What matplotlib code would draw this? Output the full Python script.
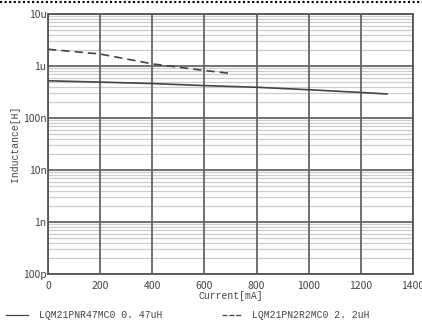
import matplotlib
matplotlib.use("Agg")
import matplotlib.pyplot as plt
from matplotlib.lines import Line2D
from matplotlib.ticker import LogLocator, FixedLocator, NullFormatter

plt.rcParams['font.family'] = ['Liberation Sans Narrow', 'Noto Sans CJK JP', 'DejaVu Sans']
MONO = ['Liberation Mono', 'DejaVu Sans Mono']

# 数据
cur_047 = [0, 200, 400, 600, 800, 1000, 1200, 1300]
ind_047 = [0.52e-6, 0.49e-6, 0.46e-6, 0.42e-6, 0.39e-6, 0.35e-6, 0.31e-6, 0.29e-6]
cur_22 = [0, 200, 400, 600, 700]
ind_22 = [2.1e-6, 1.7e-6, 1.1e-6, 0.82e-6, 0.72e-6]
ytick_vals = [1e-10, 1e-9, 1e-8, 1e-7, 1e-6, 1e-5]
ytick_labels = ["100p", "1n", "10n", "100n", "1u", "10u"]
xtick_vals = [0, 200, 400, 600, 800, 1000, 1200, 1400]
legend_labels = ["LQM21PNR47MC0 0. 47uH", "LQM21PN2R2MC0 2. 2uH"]

fig = plt.figure(figsize=(4.22, 3.22), dpi=100)
ax = fig.add_axes([0.1137, 0.149, 0.865, 0.8075])

ax.plot(cur_047, ind_047, color="#444444", lw=1.2, zorder=3)
ax.plot(cur_22, ind_22, color="#444444", lw=1.2, ls=(0, (5, 3)), zorder=3)

ax.set_yscale("log")
ax.set_xlim(0, 1400)
ax.set_ylim(1e-10, 1e-5)
ax.xaxis.set_major_locator(FixedLocator(xtick_vals))
ax.set_yticks(ytick_vals)
ax.set_yticklabels(ytick_labels)
ax.yaxis.set_minor_locator(LogLocator(base=10, subs=range(2, 10), numticks=20))
ax.yaxis.set_minor_formatter(NullFormatter())

ax.grid(True, which="major", axis="both", color="#666666", lw=1.3)
ax.grid(True, which="minor", axis="y", color="#cccccc", lw=0.9)
# 竖线画在横向细网格之上
ax.yaxis.set_zorder(0.5)
ax.xaxis.set_zorder(0.6)
ax.tick_params(which="both", length=0, labelsize=7.5, colors="#444444")
ax.tick_params(axis="x", pad=5)
ax.tick_params(axis="y", pad=1)
for s in ax.spines.values():
    s.set_color("#555555")
    s.set_linewidth(1.3)

ax.set_xlabel("Current[mA]", fontsize=7, color="#444444", labelpad=0, family=MONO)
ax.set_ylabel("Inductance[H]", fontsize=7, color="#444444", labelpad=2, family=MONO)

# 图例（图下方）
ly = 7 / 322
fig.add_artist(Line2D([6 / 422, 28 / 422], [ly, ly], color="#444444", lw=0.9))
fig.text(39 / 422, ly, legend_labels[0], fontsize=7, color="#444444", va="center", family=MONO)
fig.add_artist(Line2D([222 / 422, 242 / 422], [ly, ly], color="#444444", lw=0.9, ls=(0, (4, 1.5))))
fig.text(252 / 422, ly, legend_labels[1], fontsize=7, color="#444444", va="center", family=MONO)

# 顶部虚线边框
fig.add_artist(Line2D([0, 1], [1 - 2 / 322, 1 - 2 / 322], color="black", lw=1.5, ls=(0, (1, 1.2))))

fig.savefig("out.png", dpi=100)
